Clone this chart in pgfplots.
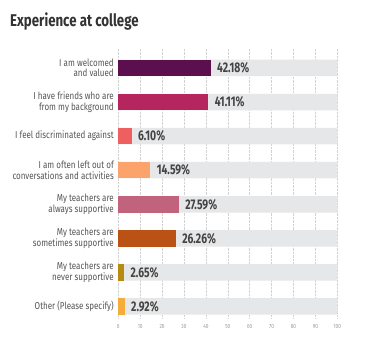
\documentclass[border=0pt]{standalone}
\usepackage{pgfplots}
\pgfplotsset{compat=1.18}
\usepackage{fontspec}
\setmainfont{Fira Sans}
\newfontfamily\cond[FakeStretch=0.8]{Fira Sans}
\newfontfamily\condb[FakeStretch=0.74]{Fira Sans}
\newfontfamily\condt[FakeStretch=0.78]{Fira Sans}
\definecolor{c1}{HTML}{5B0F4F}
\definecolor{c2}{HTML}{B5265E}
\definecolor{c3}{HTML}{EE6060}
\definecolor{c4}{HTML}{FCA26B}
\definecolor{c5}{HTML}{C1637D}
\definecolor{c6}{HTML}{BA5215}
\definecolor{c7}{HTML}{B68B12}
\definecolor{c8}{HTML}{F5AC3A}
\definecolor{bggray}{HTML}{E6E7E8}
\definecolor{labgray}{HTML}{555555}
\definecolor{valgray}{HTML}{444444}
\definecolor{tickgray}{HTML}{999999}
\definecolor{titlegray}{HTML}{333333}
\pgfplotsset{
  mybar/.style={xbar, bar shift=0pt, bar width=16.5pt, fill=#1, draw=none,
    point meta=x, nodes near coords={\pgfmathprintnumber[fixed,fixed zerofill,precision=2]{\pgfplotspointmeta}\%},
    nodes near coords align=horizontal,
    every node near coord/.append style={anchor=west, xshift=3pt, text=valgray,
      font=\condb\bfseries\fontsize{14}{14}\selectfont}}
}
\begin{document}
\begin{tikzpicture}[x=1pt,y=1pt]
\path[use as bounding box] (0,0) rectangle (368,352);
\node[anchor=base west, inner sep=0pt, text=titlegray, font=\condt\bfseries\fontsize{17}{17}\selectfont] at (10,325.3) {Experience at college};
\begin{axis}[
  at={(118.3pt,34pt)}, anchor=south west,
  scale only axis, width=219pt, height=270pt,
  xmin=0, xmax=100, ymin=0.662, ymax=8.587,
  xtick={0,10,...,100},
  ytick={1,...,8},
  yticklabels={{Other (Please specify)},{My teachers are\\never supportive},{My teachers are\\sometimes supportive},{My teachers are\\always supportive},{I am often left out of\\conversations and activities},{I feel discriminated against},{I have friends who are\\from my background},{I am welcomed\\and valued}},
  yticklabel style={align=right, font=\cond\fontsize{10}{10.5}\selectfont, text=labgray, xshift=-1pt},
  xticklabel style={font=\cond\fontsize{6}{6}\selectfont, text=tickgray, yshift=-3pt},
  /pgf/number format/assume math mode=true,
  major tick length=0pt,
  axis line style={draw=none},
  xmajorgrids, major grid style={densely dotted, gray!35},
  clip=false,
]
\addplot[xbar, bar shift=0pt, bar width=16.5pt, fill=bggray, draw=none] coordinates {(100,1) (100,2) (100,3) (100,4) (100,5) (100,6) (100,7) (100,8)};
\addplot[mybar=c1] coordinates {(42.18,8)};
\addplot[mybar=c2] coordinates {(41.11,7)};
\addplot[mybar=c3] coordinates {(6.10,6)};
\addplot[mybar=c4] coordinates {(14.59,5)};
\addplot[mybar=c5] coordinates {(27.59,4)};
\addplot[mybar=c6] coordinates {(26.26,3)};
\addplot[mybar=c7] coordinates {(2.65,2)};
\addplot[mybar=c8] coordinates {(2.92,1)};
\end{axis}
\end{tikzpicture}
\end{document}
